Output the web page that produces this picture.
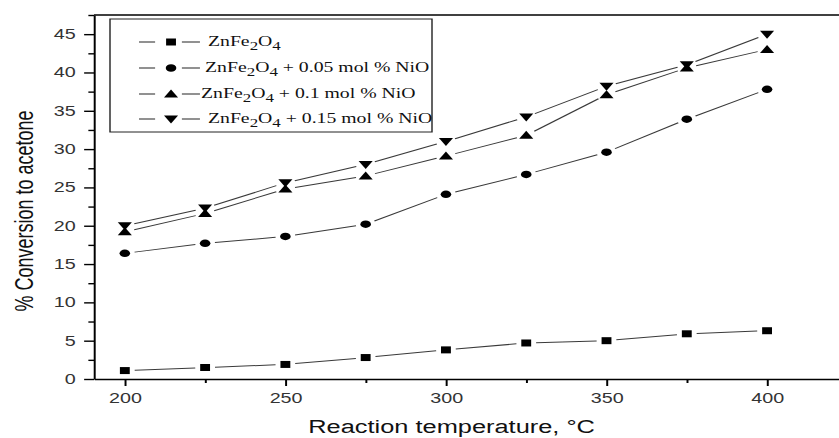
<!DOCTYPE html>
<html>
<head>
<meta charset="utf-8">
<script src="https://cdn.jsdelivr.net/npm/d3@7"></script>
<style>
  body { margin: 0; background: #fff; }
  svg { display: block; }
</style>
</head>
<body>
<div id="chart"></div>
<script>
// data
var temps = [200, 225, 250, 275, 300, 325, 350, 375, 400]
var znfe = [1.1, 1.5, 1.9, 2.8, 3.8, 4.7, 5.0, 5.9, 6.3]
var nio005 = [16.4, 17.7, 18.6, 20.2, 24.1, 26.7, 29.6, 33.9, 37.8]
var nio01 = [19.2, 21.6, 24.8, 26.5, 29.1, 31.8, 37.1, 40.6, 43.0]
var nio015 = [20.0, 22.3, 25.6, 28.0, 31.0, 34.2, 38.2, 41.0, 45.0]

var xMajor = [200, 250, 300, 350, 400]
var xMinor = [225, 275, 325, 375]
var yMajor = [0, 5, 10, 15, 20, 25, 30, 35, 40, 45]
var yMinor = [2.5, 7.5, 12.5, 17.5, 22.5, 27.5, 32.5, 37.5, 42.5, 47.5]

var seriesNames = [
  { main: 'ZnFe', sub1: '2', o: 'O', sub2: '4', rest: '' },
  { main: 'ZnFe', sub1: '2', o: 'O', sub2: '4', rest: ' + 0.05 mol % NiO' },
  { main: 'ZnFe', sub1: '2', o: 'O', sub2: '4', rest: ' + 0.1 mol % NiO' },
  { main: 'ZnFe', sub1: '2', o: 'O', sub2: '4', rest: ' + 0.15 mol % NiO' }
]
var seriesValues = [znfe, nio005, nio01, nio015]
var seriesMarkers = ['square', 'circle', 'up', 'down']

var width = 839
var height = 438
// the original picture is stretched sideways, draw in narrow units then stretch
var sx = 1.41

var svg = d3
  .select('#chart')
  .append('svg')
  .attr('width', width)
  .attr('height', height)

var g = svg.append('g').attr('transform', 'scale(' + sx + ',1)')

var x = d3
  .scaleLinear()
  .domain([190.4, 422.4])
  .range([94 / sx, width / sx])

var y = d3
  .scaleLinear()
  .domain([0, 47.5])
  .range([379, 15])

function markerPath(type) {
  if (type === 'square') return 'M-3.5,-3.5H3.5V3.5H-3.5Z'
  if (type === 'circle') return d3.symbol(d3.symbolCircle, 44)()
  if (type === 'up') return 'M0,-4.5L5,3.5L-5,3.5Z'
  return 'M0,4.5L5,-3.5L-5,-3.5Z'
}

// axes
var fontSans = 'Liberation Sans, Arial, sans-serif'

var xAxis = g
  .append('g')
  .attr('transform', 'translate(0,' + y(0) + ')')
  .call(
    d3
      .axisBottom(x)
      .tickValues(xMajor)
      .tickSize(7)
      .tickSizeOuter(0)
      .tickPadding(7)
  )
xAxis.selectAll('text').attr('font-size', 14).attr('fill', '#333').attr('font-family', fontSans)

g.append('g')
  .attr('transform', 'translate(0,' + y(0) + ')')
  .call(
    d3
      .axisBottom(x)
      .tickValues(xMinor)
      .tickSize(4)
      .tickSizeOuter(0)
      .tickFormat('')
  )
  .select('.domain')
  .remove()

var yAxis = g
  .append('g')
  .attr('transform', 'translate(' + x.range()[0] + ',0)')
  .call(
    d3
      .axisLeft(y)
      .tickValues(yMajor)
      .tickSize(7)
      .tickSizeOuter(0)
      .tickPadding(6)
  )
yAxis.selectAll('text').attr('font-size', 14).attr('fill', '#333').attr('font-family', fontSans)

g.append('g')
  .attr('transform', 'translate(' + x.range()[0] + ',0)')
  .call(
    d3
      .axisLeft(y)
      .tickValues(yMinor)
      .tickSize(4)
      .tickSizeOuter(0)
      .tickFormat('')
  )
  .select('.domain')
  .remove()

g.selectAll('.domain, .tick line').attr('stroke', '#000').attr('stroke-width', 1.4)

// top frame line
g.append('line')
  .attr('x1', x.range()[0])
  .attr('x2', x.range()[1])
  .attr('y1', y.range()[1])
  .attr('y2', y.range()[1])
  .attr('stroke', '#000')
  .attr('stroke-width', 1.4)

// axis titles
g.append('text')
  .attr('x', (x(200) + x(400)) / 2 + 4)
  .attr('y', 433)
  .attr('text-anchor', 'middle')
  .attr('font-family', fontSans)
  .attr('font-size', 18)
  .attr('fill', '#111')
  .text('Reaction temperature, °C')

g.append('text')
  .attr('transform', 'translate(23.5,' + 211 + ') rotate(-90)')
  .attr('text-anchor', 'middle')
  .attr('font-family', fontSans)
  .attr('font-size', 18)
  .attr('fill', '#111')
  .text('% Conversion to acetone')

// lines, with small gaps next to each marker
var gap = 7
seriesValues.forEach(function(vals) {
  var pts = vals.map(function(v, i) {
    return [x(temps[i]), y(v)]
  })
  for (var i = 0; i < pts.length - 1; i++) {
    var a = pts[i]
    var b = pts[i + 1]
    var dx = b[0] - a[0]
    var dy = b[1] - a[1]
    var len = Math.sqrt(dx * dx + dy * dy)
    var ux = dx / len
    var uy = dy / len
    g.append('line')
      .attr('x1', a[0] + ux * gap)
      .attr('y1', a[1] + uy * gap)
      .attr('x2', b[0] - ux * gap)
      .attr('y2', b[1] - uy * gap)
      .attr('stroke', '#3a3a3a')
      .attr('stroke-width', 1)
  }
})

// markers
seriesValues.forEach(function(vals, s) {
  g.selectAll('.m' + s)
    .data(vals)
    .enter()
    .append('path')
    .attr('class', 'm' + s)
    .attr('d', markerPath(seriesMarkers[s]))
    .attr('transform', function(d, i) {
      return 'translate(' + x(temps[i]) + ',' + y(d) + ')'
    })
    .attr('fill', '#000')
})

// legend
var legend = g.append('g')
legend
  .append('rect')
  .attr('x', 110 / sx)
  .attr('y', 19)
  .attr('width', (432 - 110) / sx)
  .attr('height', 113)
  .attr('fill', '#fff')
  .attr('stroke', '#222')
  .attr('stroke-width', 1)

var legendY = [42, 68, 94, 119]
var legendTextX = [147.5, 145.4, 142.6, 147.5]

seriesNames.forEach(function(n, i) {
  var ly = legendY[i]
  legend
    .append('line')
    .attr('x1', 98.6)
    .attr('x2', 110)
    .attr('y1', ly)
    .attr('y2', ly)
    .attr('stroke', '#222')
  legend
    .append('line')
    .attr('x1', 129)
    .attr('x2', 141.8)
    .attr('y1', ly)
    .attr('y2', ly)
    .attr('stroke', '#222')
  legend
    .append('path')
    .attr('d', markerPath(seriesMarkers[i]))
    .attr('transform', 'translate(121.3,' + ly + ')')
    .attr('fill', '#000')

  var t = legend
    .append('text')
    .attr('x', legendTextX[i])
    .attr('y', ly + 4)
    .attr('font-family', 'Liberation Serif, Times New Roman, serif')
    .attr('font-size', 14)
    .attr('fill', '#111')
  t.append('tspan').text(n.main)
  t.append('tspan').attr('dy', 4).attr('font-size', 12).text(n.sub1)
  t.append('tspan').attr('dy', -4).text(n.o)
  t.append('tspan').attr('dy', 4).attr('font-size', 12).text(n.sub2)
  t.append('tspan').attr('dy', -4).text(n.rest)
})
</script>
</body>
</html>
